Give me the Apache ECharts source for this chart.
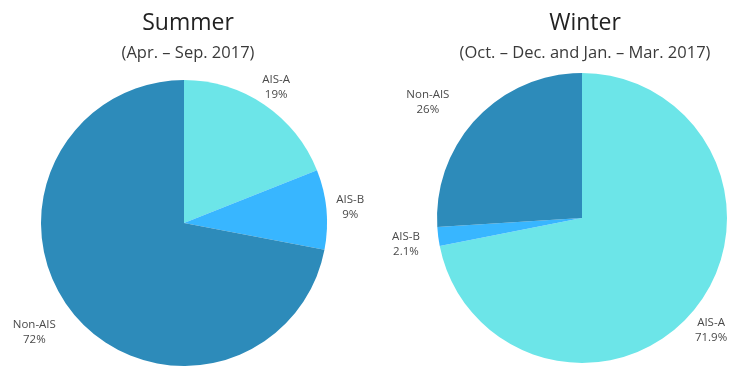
<!DOCTYPE html>
<html>
<head>
<meta charset="utf-8">
<script src="https://cdn.jsdelivr.net/npm/echarts@6/dist/echarts.min.js"></script>
<style>
  html, body { margin: 0; padding: 0; background: #ffffff; }
  #chart { width: 731px; height: 367px; }
</style>
</head>
<body>
<div id="chart"></div>
<script>
// Vessel share by AIS class, summer vs winter 2017
const categories = ['AIS-A', 'AIS-B', 'Non-AIS'];
const summerShare = [19, 9, 72];
const winterShare = [71.9, 2.1, 26];
const panelTitles = ['Summer', 'Winter'];
const panelSubtitles = ['(Apr. – Sep. 2017)', '(Oct. – Dec. and Jan. – Mar. 2017)'];

// Presentation settings
const sliceColors = ['#6ce5e8', '#38b6ff', '#2d8bba'];
const FONT = '"Open Sans", "Noto Sans", sans-serif';
const pies = [
  { center: [184, 223], radius: 143, titleX: 188,
    labelRadius: [164, 167, 185], labelNudge: [0, 0, 3.6] },
  { center: [582, 218], radius: 145, titleX: 585,
    labelRadius: [171, 178, 193], labelNudge: [1.6, -1, -6.2] }
];
const shares = [summerShare, winterShare];

// Mid angle of each slice, degrees clockwise from 12 o'clock
function midAngles(values) {
  const total = values.reduce((a, b) => a + b, 0);
  let acc = 0;
  return values.map(v => {
    const mid = (acc + v / 2) / total * 360;
    acc += v;
    return mid;
  });
}

const chart = echarts.init(document.getElementById('chart'), null, { renderer: 'canvas' });

const series = shares.map((values, si) => ({
  type: 'pie',
  center: pies[si].center,
  radius: pies[si].radius,
  startAngle: 90,
  clockwise: true,
  silent: true,
  animation: false,
  avoidLabelOverlap: false,
  data: categories.map((name, i) => ({
    name, value: values[i], itemStyle: { color: sliceColors[i] }
  })),
  label: {
    show: true,
    position: 'inside',
    overflow: 'none',
    formatter: p => p.name + '\n' + p.value + '%',
    color: '#4a4a4a',
    fontFamily: FONT,
    fontSize: 11.5,
    lineHeight: 15,
    align: 'center'
  },
  labelLine: { show: false },
  labelLayout: params => {
    const cfg = pies[si];
    const mids = midAngles(values);
    const a = (mids[params.dataIndex] + cfg.labelNudge[params.dataIndex]) * Math.PI / 180;
    const r = cfg.labelRadius[params.dataIndex];
    return {
      x: cfg.center[0] + r * Math.sin(a),
      y: cfg.center[1] - r * Math.cos(a),
      align: 'center',
      verticalAlign: 'middle',
      hideOverlap: false
    };
  }
}));

const graphic = [];
pies.forEach((cfg, si) => {
  graphic.push({
    type: 'text', x: cfg.titleX, y: 23,
    style: { text: panelTitles[si], fill: '#222222', font: '23px ' + FONT,
             textAlign: 'center', textVerticalAlign: 'middle' }
  });
  graphic.push({
    type: 'text', x: cfg.titleX, y: 53,
    style: { text: panelSubtitles[si], fill: '#3a3a3a', font: '16.5px ' + FONT,
             textAlign: 'center', textVerticalAlign: 'middle' }
  });
});

chart.setOption({
  backgroundColor: '#ffffff',
  animation: false,
  series,
  graphic
});
</script>
</body>
</html>
